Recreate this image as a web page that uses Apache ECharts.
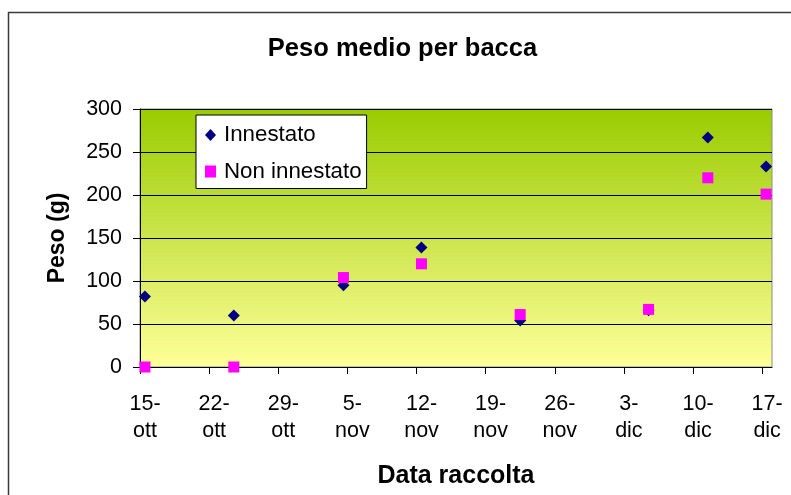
<!DOCTYPE html>
<html>
<head>
<meta charset="utf-8">
<script src="https://cdn.jsdelivr.net/npm/echarts@6/dist/echarts.min.js"></script>
<style>
html,body{margin:0;padding:0;background:#fff;}
#c{width:791px;height:495px;}
</style>
</head>
<body>
<div id="c"></div>
<script>
// Days after 15-ott (x), weight in g (y)
var tickDays = [0, 7, 14, 21, 28, 35, 42, 49, 56, 63];
var tickLabels = ['15-\nott', '22-\nott', '29-\nott', '5-\nnov', '12-\nnov', '19-\nnov', '26-\nnov', '3-\ndic', '10-\ndic', '17-\ndic'];
var sampleDays = [0.5, 9.5, 20.6, 28.5, 38.5, 51.5, 57.5, 63.4];
var innestato = [82, 60, 95, 139, 54, 66, 267, 233];
var nonInnestato = [0, 0, 104, 120, 61, 67, 220, 201];

function pairs(xs, ys) { return xs.map(function (x, i) { return [x, ys[i]]; }); }

var FONT = "'Liberation Sans', Arial, sans-serif";
var chart = echarts.init(document.getElementById('c'), null, { renderer: 'canvas' });
chart.setOption({
  animation: false,
  backgroundColor: '#ffffff',
  textStyle: { fontFamily: FONT, color: '#000' },
  title: {
    text: 'Peso medio per bacca',
    left: 397.5, top: 31, textAlign: 'center',
    textStyle: { fontFamily: FONT, fontSize: 25.5, fontWeight: 'bold', color: '#000' }
  },
  graphic: [{
    type: 'rect', z: 0, silent: true,
    shape: { x: 8.5, y: 12.5, width: 800, height: 500 },
    style: { fill: null, stroke: '#3a3a3a', lineWidth: 1.5 }
  }],
  grid: {
    left: 140, top: 109, width: 632, height: 258,
    show: true, borderColor: '#8c8c8c', borderWidth: 1,
    backgroundColor: new echarts.graphic.LinearGradient(0, 0, 0, 1, [
      { offset: 0, color: '#99CC00' },
      { offset: 1, color: '#FFFF99' }
    ])
  },
  legend: {
    orient: 'vertical', left: 196, top: 115,
    padding: [9, 5, 6, 9], itemGap: 14.5, itemWidth: 11, itemHeight: 12,
    backgroundColor: '#ffffff', borderColor: '#000', borderWidth: 1,
    textStyle: { fontFamily: FONT, fontSize: 22.3, color: '#000', lineHeight: 22, padding: [0, 0, 0, 3] },
    data: [
      { name: 'Innestato', icon: 'diamond' },
      { name: 'Non innestato', icon: 'rect' }
    ]
  },
  xAxis: {
    type: 'value', min: 0, max: 64, interval: 7,
    name: 'Data raccolta', nameLocation: 'middle', nameGap: 97,
    nameTextStyle: { fontFamily: FONT, fontSize: 25, fontWeight: 'bold', color: '#000' },
    axisLine: { show: true, onZero: false, lineStyle: { color: '#000', width: 1 } },
    axisTick: { show: true, inside: false, length: 7, lineStyle: { color: '#000' }, customValues: tickDays },
    axisLabel: {
      customValues: tickDays,
      formatter: function (v) { var i = tickDays.indexOf(v); return i >= 0 ? tickLabels[i] : ''; },
      fontFamily: FONT, fontSize: 21.5, color: '#000', lineHeight: 27, margin: 24,
      padding: [0, 0, 0, 10]
    },
    splitLine: { show: false }
  },
  yAxis: {
    type: 'value', min: 0, max: 300, interval: 50,
    name: 'Peso (g)', nameLocation: 'middle', nameGap: 71, nameRotate: 90,
    nameTextStyle: { fontFamily: FONT, fontSize: 23, fontWeight: 'bold', color: '#000' },
    axisLine: { show: true, lineStyle: { color: '#000', width: 1 } },
    axisTick: { show: true, inside: false, length: 7, lineStyle: { color: '#000' } },
    axisLabel: { fontFamily: FONT, fontSize: 21.5, color: '#000', margin: 18 },
    splitLine: { show: true, lineStyle: { color: '#000', width: 1 } }
  },
  series: [{
    name: 'Innestato', type: 'scatter', symbol: 'diamond', symbolSize: 12,
    itemStyle: { color: '#000080', opacity: 1 },
    data: pairs(sampleDays, innestato), z: 3
  }, {
    name: 'Non innestato', type: 'scatter', symbol: 'rect', symbolSize: 11,
    itemStyle: { color: '#FF00FF', opacity: 1 },
    data: pairs(sampleDays, nonInnestato), z: 4
  }]
});
</script>
</body>
</html>
